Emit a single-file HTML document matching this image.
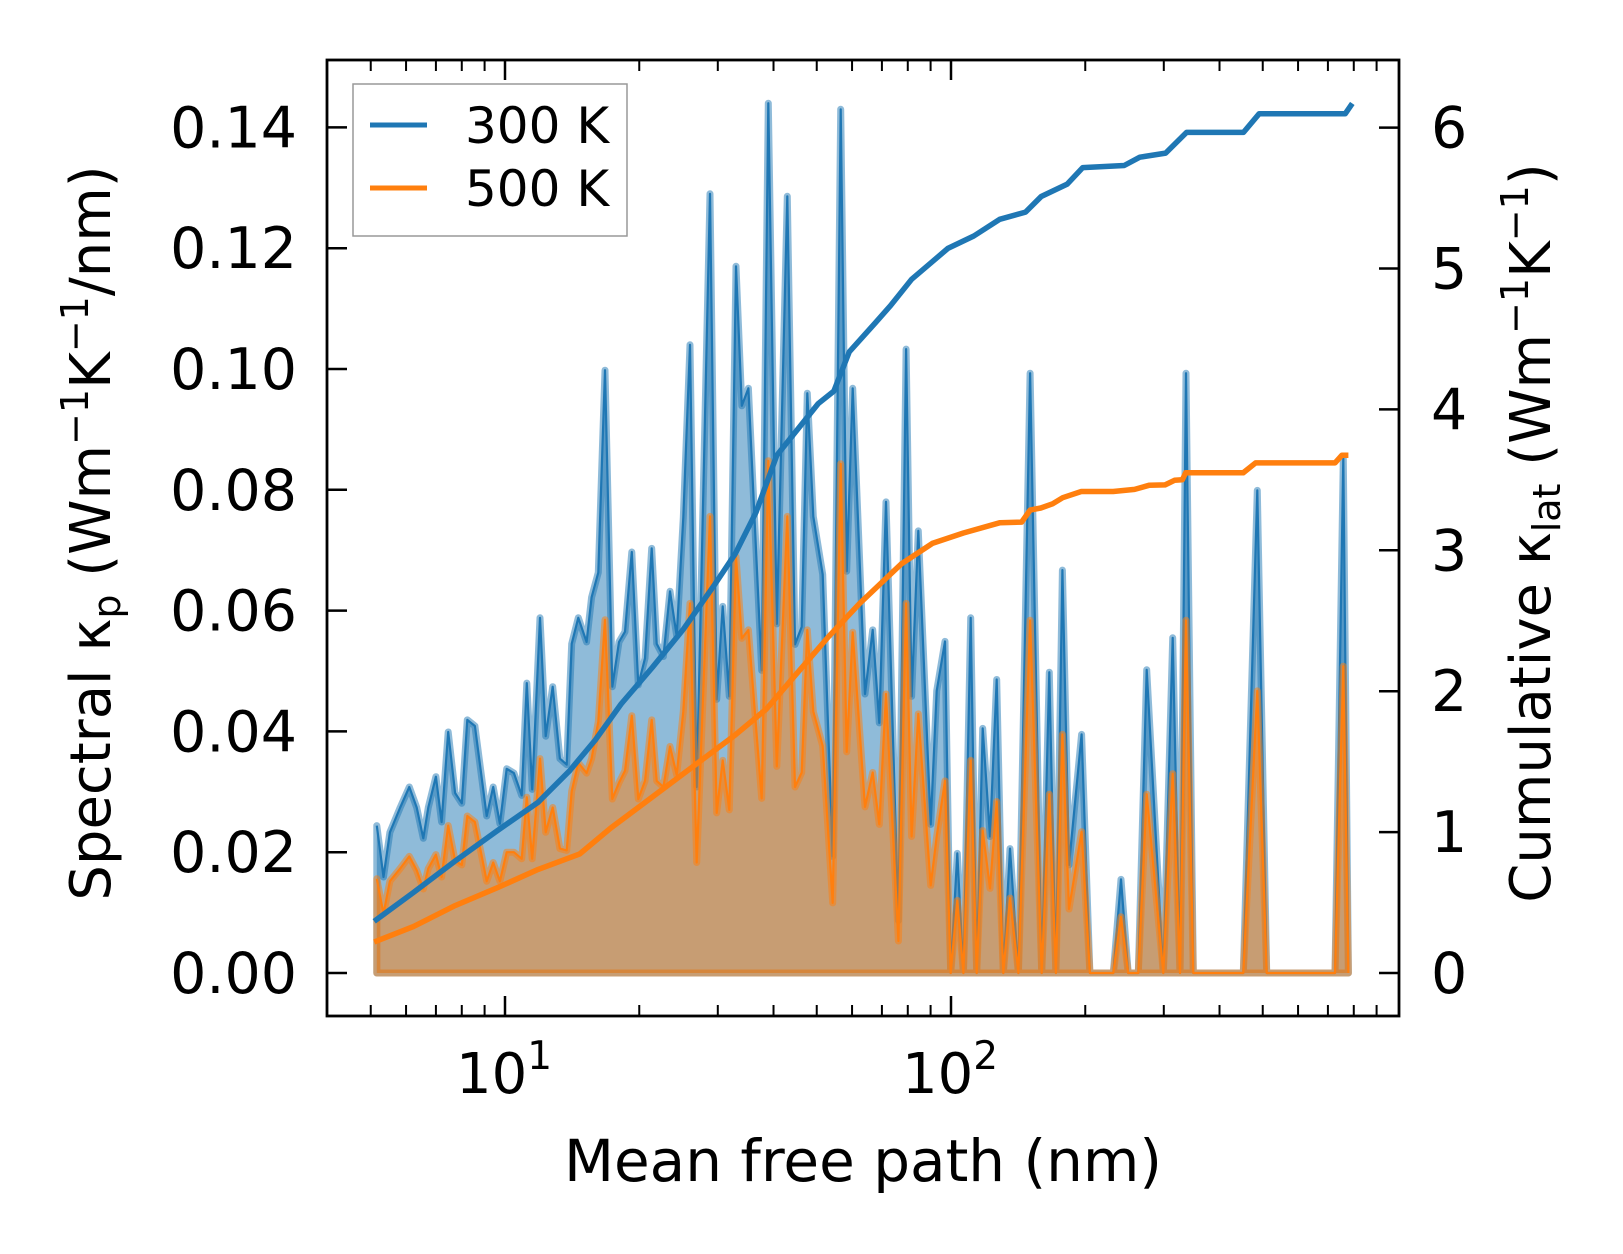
<!DOCTYPE html>
<html><head><meta charset="utf-8"><style>
html,body{margin:0;padding:0;background:#fff;}
svg{display:block;font-family:"DejaVu Sans","Liberation Sans",sans-serif;}
</style></head><body>
<svg id="chart" width="1623" height="1254" viewBox="0 0 1623 1254" xmlns="http://www.w3.org/2000/svg">
<rect width="1623" height="1254" fill="#fff"/>
<g id="marks"></g>
<g id="axes"></g>
<text x="863" y="1181" font-size="58" text-anchor="middle">Mean free path (nm)</text>
<text transform="translate(110,533) rotate(-90)" font-size="56" text-anchor="middle">Spectral κ<tspan font-size="38" dy="10">p</tspan><tspan dy="-10"> (Wm</tspan><tspan font-size="38" dy="-22">−1</tspan><tspan dy="22">K</tspan><tspan font-size="38" dy="-22">−1</tspan><tspan dy="22">/nm)</tspan></text>
<text transform="translate(1550,533) rotate(-90)" font-size="56" text-anchor="middle">Cumulative κ<tspan font-size="38" dy="10">lat</tspan><tspan dy="-10"> (Wm</tspan><tspan font-size="38" dy="-22">−1</tspan><tspan dy="22">K</tspan><tspan font-size="38" dy="-22">−1</tspan><tspan dy="22">)</tspan></text>
<g>
<rect x="353" y="84" width="274" height="152" fill="#fff" stroke="#999" stroke-width="1.5"/>
<line x1="370" y1="125" x2="427" y2="125" stroke="#1f77b4" stroke-width="5"/>
<text x="465" y="143" font-size="50">300 K</text>
<line x1="370" y1="188" x2="427" y2="188" stroke="#ff7f0e" stroke-width="5"/>
<text x="465" y="206" font-size="50">500 K</text>
</g>
</svg>
<script>
const mfp = [5.16,5.34,5.52,5.82,6.10,6.34,6.56,6.73,7.00,7.21,7.46,7.73,8.00,8.23,8.56,9.10,9.41,9.74,10.09,10.47,10.90,11.19,11.51,11.98,12.34,12.79,13.28,13.75,14.11,14.60,15.24,15.64,16.19,16.76,17.40,18.01,18.58,19.24,19.90,20.60,21.33,21.89,22.65,23.44,24.27,25.11,25.99,26.91,28.82,29.83,30.77,31.84,32.96,33.95,35.13,37.63,38.94,40.68,42.95,44.69,46.26,47.63,49.12,51.56,54.29,56.59,58.37,60.21,64.15,66.75,69.07,71.51,76.21,79.29,81.58,84.45,90.04,92.88,96.94,99.83,103.3,106.6,110.7,114.2,117.8,122.3,126.6,131.0,135.6,141.6,150.4,159.7,166.1,171.9,177.7,183.9,196.3,204.9,231.1,240.5,249.7,263.0,274.6,299.2,314.1,326.2,336.4,349.4,452.2,486.2,510.3,726.1,758.0,777.9];
const spec300 = [.0244,.0159,.0233,.0274,.0308,.0274,.0223,.0274,.0325,.0250,.0399,.0298,.0281,.0419,.0409,.0260,.0308,.0247,.0338,.0331,.0294,.0480,.0304,.0588,.0392,.0474,.0355,.0345,.0545,.0588,.0548,.0622,.0663,.0998,.0474,.0548,.0565,.0697,.0477,.0521,.0703,.0545,.0524,.0632,.0558,.0754,.104,.0308,.129,.0453,.0607,.0458,.117,.0939,.0968,.0501,.144,.0578,.1286,.0544,.0573,.0960,.0756,.066,.0193,.143,.0665,.0968,.0462,.0568,.0414,.078,.0087,.1033,.0458,.0732,.0246,.0467,.0549,0,.0198,0,.0588,0,.0405,.0226,.0486,0,.0206,0,.0993,0,.0498,0,.0667,.0179,.0395,0,0,.0155,0,0,.0502,0,.0555,0,.0993,0,0,.0799,0,0,.0852,0];
const spec500 = [.0156,.0098,.0152,.0173,.0193,.0170,.0139,.0173,.0196,.0159,.0244,.0186,.0179,.0260,.0250,.0152,.0183,.0152,.0200,.0200,.0189,.0291,.0189,.0355,.0233,.0274,.0206,.0203,.0301,.0348,.0331,.0355,.0416,.0585,.0288,.0315,.0335,.0426,.0288,.0318,.0419,.0318,.0308,.0375,.0328,.0433,.0612,.0183,.0756,.0265,.0352,.0270,.0689,.0554,.0568,.0289,.0848,.0342,.0756,.0308,.0332,.0568,.0433,.0376,.0116,.0843,.0366,.0564,.0275,.0332,.0246,.0462,.0053,.0612,.0226,.0429,.0145,.0226,.0318,0,.012,0,.0352,0,.0236,.014,.0284,0,.0124,0,.0584,0,.0296,0,.0395,.0106,.0234,0,0,.0093,0,0,.0296,0,.033,0,.0584,0,0,.0467,0,0,.0508,0];
const cumMfp300 = [5.09,6.24,7.73,9.58,11.87,13.94,15.93,18.22,21.39,25.12,29.49,32.84,36.54,40.68,45.27,50.39,54.6,59.16,67.65,73.3,81.6,90.8,98.4,112.5,128.6,147.0,159.3,182.2,197.4,244.5,265.1,303.0,337.3,452.7,490.7,765.2,794];
const cum300 = [0.367,0.573,0.794,1.007,1.212,1.433,1.653,1.910,2.168,2.44,2.755,2.976,3.270,3.674,3.857,4.041,4.129,4.409,4.614,4.739,4.923,5.048,5.143,5.231,5.349,5.400,5.511,5.599,5.716,5.731,5.790,5.819,5.966,5.966,6.098,6.098,6.172];
const cumMfp500 = [5.09,6.24,7.73,9.58,11.87,14.71,17.27,21.39,26.5,32.84,38.55,45.27,53.18,62.4,77.3,90.8,106.6,128.8,144,150.4,159,169,178,196,231,258,278,302,317,330,336,452,482,726,752,778];
const cum500 = [0.220,0.331,0.478,0.603,0.735,0.845,1.029,1.249,1.470,1.690,1.874,2.131,2.388,2.623,2.902,3.049,3.123,3.196,3.20,3.285,3.30,3.33,3.373,3.417,3.417,3.432,3.461,3.464,3.497,3.50,3.55,3.55,3.62,3.62,3.674,3.674];
const leftTicks = ["0.00","0.02","0.04","0.06","0.08","0.10","0.12","0.14"];
const leftTickVals = [0,0.02,0.04,0.06,0.08,0.10,0.12,0.14];
const rightTickVals = [0,1,2,3,4,5,6];
const xMajor = [10,100];
const xMinor = [5,6,7,8,9,20,30,40,50,60,70,80,90,200,300,400,500,600,700,800,900];

const L=327,R=1399,T=60,B=1016;
function X(m){return 505+(Math.log10(m)-1)*446;}
function Y(v){return 973-v*6040;}
function Y2(c){return 973-c*140.9;}
const NS="http://www.w3.org/2000/svg";
const marks=document.getElementById('marks');
const axes=document.getElementById('axes');
function mk(tag,attrs,parent){const e=document.createElementNS(NS,tag);for(const k in attrs)e.setAttribute(k,attrs[k]);parent.appendChild(e);return e;}

function drawSpectrum(vals,color,name){
  let pts=mfp.map((m,i)=>X(m).toFixed(1)+','+Y(vals[i]).toFixed(1));
  let poly=pts.join(' ')+' '+X(mfp[mfp.length-1]).toFixed(1)+','+Y(0)+' '+X(mfp[0]).toFixed(1)+','+Y(0);
  const f=mk('polygon',{points:poly,fill:color,'fill-opacity':0.5,stroke:color,'stroke-opacity':0.5,'stroke-width':7,'stroke-linejoin':'round'},marks);
  
  
  const l=mk('polyline',{points:pts.join(' '),fill:'none',stroke:color,'stroke-width':2.2,'stroke-linejoin':'round'},marks);
  
  
}
drawSpectrum(spec300,'#1f77b4','spectral-300k');
drawSpectrum(spec500,'#ff7f0e','spectral-500k');
function drawCum(ms,vals,color,name){
  const l=mk('polyline',{points:ms.map((m,i)=>X(m).toFixed(1)+','+Y2(vals[i]).toFixed(1)).join(' '),fill:'none',stroke:color,'stroke-width':5.5,'stroke-linejoin':'round'},marks);
  
  
}
drawCum(cumMfp300,cum300,'#1f77b4','cumulative-300k');
drawCum(cumMfp500,cum500,'#ff7f0e','cumulative-500k');

const fr=mk('rect',{x:L,y:T,width:R-L,height:B-T,fill:'none',stroke:'#000','stroke-width':2.8},axes);


leftTickVals.forEach((v,i)=>{
  const y=Y(v);
  const t=mk('line',{x1:L,y1:y,x2:L+20,y2:y,stroke:'#000','stroke-width':2.5},axes);
  
  
  const tx=mk('text',{x:297,y:y+20,'font-size':57,'text-anchor':'end'},axes);
  tx.textContent=leftTicks[i];
  
  
});
rightTickVals.forEach(v=>{
  const y=Y2(v);
  const t=mk('line',{x1:R-20,y1:y,x2:R,y2:y,stroke:'#000','stroke-width':2.5},axes);
  
  
  const tx=mk('text',{x:1431,y:y+20,'font-size':57},axes);
  tx.textContent=String(v);
  
  
});
xMajor.forEach((m,i)=>{
  const x=X(m);
  [[B,B-20],[T,T+20]].forEach(p=>{
    const t=mk('line',{x1:x,y1:p[0],x2:x,y2:p[1],stroke:'#000','stroke-width':2.5},axes);
    
    
  });
  const tx=mk('text',{x:x-1,y:1093,'font-size':56,'text-anchor':'middle'},axes);
  
  
  tx.textContent='10';
  const s=mk('tspan',{'font-size':39,dy:-24},tx);
  s.textContent=String(i+1);
});
xMinor.forEach(m=>{
  const x=X(m);
  [[B,B-11],[T,T+11]].forEach(p=>{
    const t=mk('line',{x1:x,y1:p[0],x2:x,y2:p[1],stroke:'#000','stroke-width':2},axes);
    
    
  });
});
</script>
</body></html>
